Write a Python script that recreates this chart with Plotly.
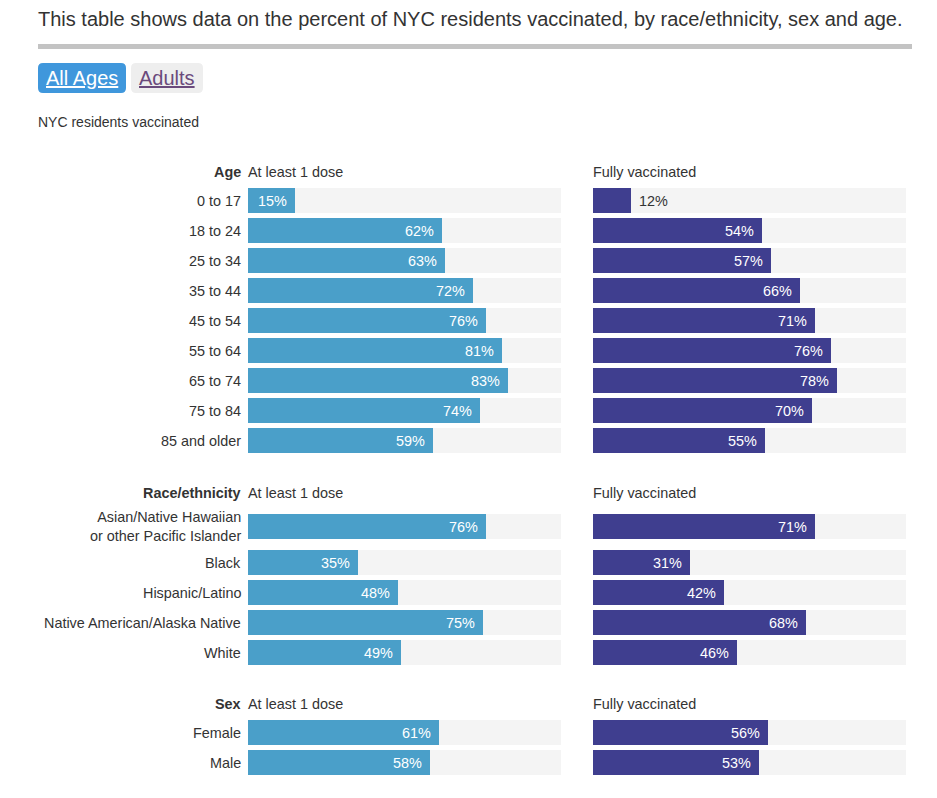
import plotly.graph_objects as go

# ---------------- data ----------------
age_labels = ["0 to 17", "18 to 24", "25 to 34", "35 to 44", "45 to 54",
              "55 to 64", "65 to 74", "75 to 84", "85 and older"]
age_dose1 = [15, 62, 63, 72, 76, 81, 83, 74, 59]
age_full = [12, 54, 57, 66, 71, 76, 78, 70, 55]

race_labels = ["Asian/Native Hawaiian<br>or other Pacific Islander", "Black",
               "Hispanic/Latino", "Native American/Alaska Native", "White"]
race_dose1 = [76, 35, 48, 75, 49]
race_full = [71, 31, 42, 68, 46]

sex_labels = ["Female", "Male"]
sex_dose1 = [61, 58]
sex_full = [56, 53]

group_names = ["Age", "Race/ethnicity", "Sex"]
col_titles = ["At least 1 dose", "Fully vaccinated"]

# ---------------- layout constants ----------------
W, H = 937, 798
FONT = "Liberation Sans, Arial, sans-serif"
TXT = "#333333"
C1 = "#4a9fc9"
C2 = "#3f3e8f"
BG = "#f4f4f4"
FS = 14.4

# header y and row centres (pixel-units y axis)
group_header_y = [172, 493, 704]
group_first_row = [200, 526, 732]
group_extra = [[0] * 9, [0, 6, 6, 6, 6], [0, 0]]
ROW = 30
BAR_W = 25

def px(x):
    return x / W

L0, L1 = 248, 561
R0, R1 = 593, 906
LAB_X = 243

groups = [
    (age_labels, age_dose1, age_full),
    (race_labels, race_dose1, race_full),
    (sex_labels, sex_dose1, sex_full),
]

fig = go.Figure()
annotations = []

for gi, (labels, d1, d2) in enumerate(groups):
    ys = [group_first_row[gi] + i * ROW + group_extra[gi][i] for i in range(len(labels))]
    for xa, vals, col in (("x", d1, C1), ("x2", d2, C2)):
        fig.add_trace(go.Bar(x=[100] * len(vals), y=ys, orientation="h", width=BAR_W,
                             marker=dict(color=BG, line=dict(width=0)), xaxis=xa, yaxis="y",
                             hoverinfo="skip", showlegend=False))
        fig.add_trace(go.Bar(x=vals, y=ys, orientation="h", width=BAR_W,
                             marker=dict(color=col, line=dict(width=0)), xaxis=xa, yaxis="y",
                             hovertemplate="%{x}%<extra></extra>", showlegend=False))
        span = (L1 - L0) if xa == "x" else (R1 - R0)
        for v, y in zip(vals, ys):
            inside = v * span / 100 > 40
            annotations.append(dict(
                x=v, y=y + 0.5, xref=xa, yref="y", text=f"{v}%", showarrow=False,
                xanchor="right" if inside else "left", xshift=-6 if inside else 6,
                font=dict(family=FONT, size=FS, color="white" if inside else TXT)))
    # category labels
    for lab, y in zip(labels, ys):
        annotations.append(dict(x=px(LAB_X), y=y + 0.5, xref="paper", yref="y", text=lab,
                                showarrow=False, xanchor="right", align="right",
                                font=dict(family=FONT, size=FS, color=TXT)))
    hy = group_header_y[gi]
    annotations.append(dict(x=px(LAB_X), y=hy, xref="paper", yref="y",
                            text=f"<b>{group_names[gi]}</b>", showarrow=False,
                            xanchor="right", font=dict(family=FONT, size=FS, color=TXT)))
    annotations.append(dict(x=px(L0 - 2), y=hy, xref="paper", yref="y", text=col_titles[0],
                            showarrow=False, xanchor="left",
                            font=dict(family=FONT, size=FS, color=TXT)))
    annotations.append(dict(x=px(R0 - 2), y=hy, xref="paper", yref="y", text=col_titles[1],
                            showarrow=False, xanchor="left",
                            font=dict(family=FONT, size=FS, color=TXT)))

# title, subtitle, buttons
annotations.append(dict(x=px(36), y=19, xref="paper", yref="y",
                        text="This table shows data on the percent of NYC residents vaccinated, by race/ethnicity, sex and age.",
                        showarrow=False, xanchor="left",
                        font=dict(family=FONT, size=20, color=TXT)))
annotations.append(dict(x=px(36), y=122, xref="paper", yref="y", text="NYC residents vaccinated",
                        showarrow=False, xanchor="left",
                        font=dict(family=FONT, size=14, color=TXT)))
annotations.append(dict(x=px(82), y=78, xref="paper", yref="y", text="<u>All Ages</u>",
                        showarrow=False, xanchor="center",
                        font=dict(family=FONT, size=20, color="white")))
annotations.append(dict(x=px(166.5), y=78, xref="paper", yref="y", text="<u>Adults</u>",
                        showarrow=False, xanchor="center",
                        font=dict(family=FONT, size=20, color="#6a4a7c")))

def rrect(x0, y0, x1, y1, r):
    X0, X1 = px(x0), px(x1)
    rx = px(r)
    return (f"M{X0 + rx},{y0} L{X1 - rx},{y0} Q{X1},{y0} {X1},{y0 + r} "
            f"L{X1},{y1 - r} Q{X1},{y1} {X1 - rx},{y1} L{X0 + rx},{y1} "
            f"Q{X0},{y1} {X0},{y1 - r} L{X0},{y0 + r} Q{X0},{y0} {X0 + rx},{y0} Z")

shapes = [
    dict(type="rect", xref="paper", yref="y", x0=px(38), x1=px(912), y0=44, y1=49,
         fillcolor="#c3c3c3", line=dict(width=0), layer="below"),
    dict(type="path", xref="paper", yref="y", path=rrect(38, 63, 126, 93, 5),
         fillcolor="#3f97dc", line=dict(width=0), layer="below"),
    dict(type="path", xref="paper", yref="y", path=rrect(131, 63, 203, 93, 5),
         fillcolor="#eeeeee", line=dict(width=0), layer="below"),
]

fig.update_layout(
    width=W, height=H, margin=dict(l=0, r=0, t=0, b=0),
    paper_bgcolor="white", plot_bgcolor="rgba(0,0,0,0)",
    barmode="overlay", bargap=0, showlegend=False,
    xaxis=dict(domain=[px(L0), px(L1)], range=[0, 100], visible=False, fixedrange=True),
    xaxis2=dict(domain=[px(R0), px(R1)], range=[0, 100], visible=False, anchor="y",
                fixedrange=True),
    yaxis=dict(domain=[0, 1], range=[H, 0], visible=False, fixedrange=True),
    annotations=annotations, shapes=shapes,
    font=dict(family=FONT, color=TXT),
)

fig.write_html("out.html")
